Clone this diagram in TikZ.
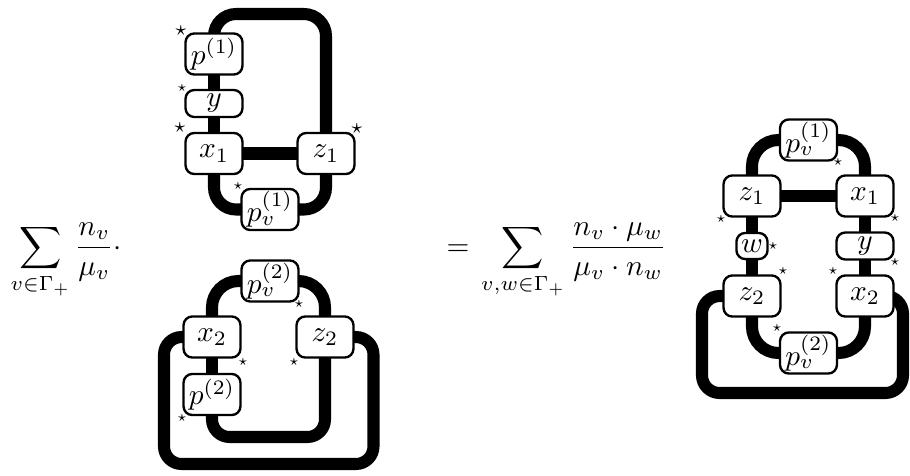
\documentclass[tikz,border=0pt]{standalone}
\usetikzlibrary{calc}
\pgfdeclarelayer{bg}
\pgfsetlayers{bg,main}
\tikzset{
  strand/.style={line width=4.1pt, rounded corners=6pt},
  arc/.style={strand, rounded corners=9pt},
  box/.style={draw, fill=white, line width=0.8pt, rounded corners=3pt, inner sep=0pt,
              minimum width=19.4pt, minimum height=14pt},
  thinbox/.style={box, minimum height=9.2pt},
  smallbox/.style={box, minimum width=10.6pt, minimum height=8.9pt},
  st/.style={inner sep=0pt, font=\tiny},
  bigst/.style={inner sep=0pt, font=\scriptsize},
  formula/.style={anchor=base west, inner sep=0pt}
}
\begin{document}
\begin{tikzpicture}[x=0.34066pt, y=-0.34066pt]
\useasboundingbox (0,0) rectangle (910,475);

% formulas
\node[formula] (f1) at (10,255) {$\displaystyle\sum_{v\in\Gamma_+}\frac{n_v}{\mu_v}\cdot$};
\node[formula] (f2) at (446,255) {$\displaystyle=\hspace{1.2pt}\sum_{v,w\in\Gamma_+}\frac{n_v\cdot\mu_w}{\mu_v\cdot n_w}$};

% ---------- top diagram ----------
\node[box] (p1) at (214,54) {$p^{(1)}$};
\node[thinbox] (ya) at (214,103.5) {$y$};
\node[box] (x1) at (214,153.5) {$x_1$};
\node[box] (z1) at (326,153.5) {$z_1$};
\node[box] (pv1) at (270,209.5) {$p_v^{(1)}$};
\coordinate (t1) at (270,14);

\node[bigst] (s1) at (181,31) {$\star$};
\node[st] (s2) at (182,88) {$\star$};
\node[bigst] (s3) at (180,128) {$\star$};
\node[bigst] (s4) at (357,129) {$\star$};
\node[st] (s5) at (238,186) {$\star$};

% ---------- bottom diagram ----------
\node[box] (pv2) at (270,281) {$p_v^{(2)}$};
\node[box] (x2) at (212,337) {$x_2$};
\node[box] (z2) at (325,337) {$z_2$};
\node[box] (p2) at (212,394.5) {$p^{(2)}$};
\coordinate (b2) at (270,437);
\coordinate (ol) at (164,464);
\coordinate (or) at (373.5,464);

\node[st] (s6) at (299,304) {$\star$};
\node[st] (s7) at (243,362) {$\star$};
\node[st] (s8) at (294,362) {$\star$};
\node[st] (s9) at (182,418) {$\star$};

% ---------- right diagram ----------
\node[box] (rpv1) at (808.5,140) {$p_v^{(1)}$};
\node[box] (rz1) at (752,196) {$z_1$};
\node[box] (rx1) at (865,196) {$x_1$};
\node[smallbox] (rw) at (752,246) {$w$};
\node[thinbox] (ry) at (865,246) {$y$};
\node[box] (rz2) at (752,296) {$z_2$};
\node[box] (rx2) at (865,296) {$x_2$};
\node[box] (rpv2) at (808.5,353) {$p_v^{(2)}$};
\coordinate (rl) at (702,393);
\coordinate (rr) at (903,393);

\node[st] (r1) at (838,162) {$\star$};
\node[st] (r2) at (721,219) {$\star$};
\node[st] (r3) at (895,218) {$\star$};
\node[st] (r4) at (773,246) {$\star$};
\node[st] (r5) at (895,262) {$\star$};
\node[st] (r6) at (783,271) {$\star$};
\node[st] (r7) at (833,271) {$\star$};
\node[st] (r8) at (777,328) {$\star$};

\begin{pgfonlayer}{bg}
  % top
  \draw[strand, rounded corners=7.5pt] (p1.center) |- (t1) -| (z1.center);
  \draw[strand] (p1.center) -- (x1.center);
  \draw[strand] (x1.center) -- (z1.center);
  \draw[strand, rounded corners=7.5pt] (x1.center) |- (pv1.center) -| (z1.center);
  % bottom
  \draw[arc] (x2.center) |- (pv2.center) -| (z2.center);
  \draw[strand] (x2.center) -- (p2.center);
  \draw[strand] (p2.center) |- (b2) -| (z2.center);
  \draw[strand] (x2.center) -| (ol) -- (or) |- (z2.center);
  % right
  \draw[arc] (rz1.center) |- (rpv1.center) -| (rx1.center);
  \draw[strand] (rz1.center) -- (rx1.center);
  \draw[strand] (rz1.center) -- (rz2.center);
  \draw[strand] (rx1.center) -- (rx2.center);
  \draw[arc] (rz2.center) |- (rpv2.center) -| (rx2.center);
  \draw[strand] (rz2.center) -| (rl) -- (rr) |- (rx2.center);
\end{pgfonlayer}
\end{tikzpicture}
\end{document}
